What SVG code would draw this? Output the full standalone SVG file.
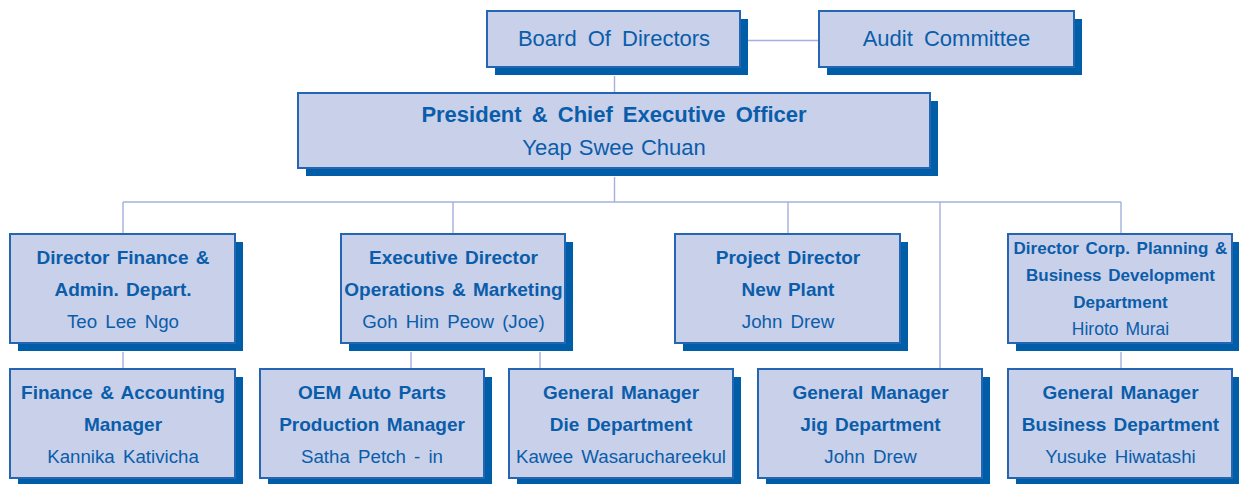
<svg xmlns="http://www.w3.org/2000/svg" width="1239" height="484" viewBox="0 0 1239 484">
<style>
.sh{fill:#005EA8;}
.bx{fill:#C9D0E9;stroke:#2566B2;stroke-width:2;}
.cn{fill:none;stroke:#A3B1DC;stroke-width:1.4;}
text{font-family:"Liberation Sans",Arial,sans-serif;fill:#0A5DAA;text-anchor:middle;}
.t{font-size:22px;word-spacing:5px;}
.b{font-size:19px;font-weight:bold;word-spacing:2px;}
.r{font-size:18.7px;word-spacing:3px;}
.pb{font-size:22px;font-weight:bold;word-spacing:4px;}
.pr{font-size:22px;word-spacing:1px;}
.cb{font-size:17px;font-weight:bold;word-spacing:2px;}
.cr{font-size:17.5px;word-spacing:2px;}
</style>
<rect width="1239" height="484" fill="#FFFFFF"/>
<g id="connectors">
<path class="cn" d="M748 40.5H819"/>
<path class="cn" d="M614.5 76V93"/>
<path class="cn" d="M614.5 177V202"/>
<path class="cn" d="M123 202H1121"/>
<path class="cn" d="M123 202V233M453 202V233M788 202V233M1121 202V233M940 202V368"/>
<path class="cn" d="M123 352V368M411 352V368M540 352V368M1121 352V368"/>
</g>
<g id="board">
<rect class="sh" x="495" y="19" width="253" height="56"/>
<rect class="bx" x="487" y="11" width="253" height="56"/>
<text class="t" x="614" y="46">Board Of Directors</text>
</g>
<g id="audit">
<rect class="sh" x="827" y="19" width="255" height="56"/>
<rect class="bx" x="819" y="11" width="255" height="56"/>
<text class="t" x="946.5" y="46">Audit Committee</text>
</g>
<g id="ceo">
<rect class="sh" x="306" y="101" width="632" height="75"/>
<rect class="bx" x="298" y="93" width="632" height="75"/>
<text class="pb" x="614" y="122">President &amp; Chief Executive Officer</text>
<text class="pr" x="614" y="155">Yeap Swee Chuan</text>
</g>
<g id="finance-director">
<rect class="sh" x="18" y="242" width="225" height="109"/>
<rect class="bx" x="10" y="234" width="225" height="109"/>
<text class="b" x="123" y="264">Director Finance &amp;</text>
<text class="b" x="123" y="296">Admin. Depart.</text>
<text class="r" x="123" y="328">Teo Lee Ngo</text>
</g>
<g id="exec-director">
<rect class="sh" x="349" y="242" width="224" height="109"/>
<rect class="bx" x="341" y="234" width="224" height="109"/>
<text class="b" x="453.5" y="264">Executive Director</text>
<text class="b" x="453.5" y="296">Operations &amp; Marketing</text>
<text class="r" x="453.5" y="328">Goh Him Peow (Joe)</text>
</g>
<g id="project-director">
<rect class="sh" x="683" y="242" width="225" height="109"/>
<rect class="bx" x="675" y="234" width="225" height="109"/>
<text class="b" x="788" y="264">Project Director</text>
<text class="b" x="788" y="296">New Plant</text>
<text class="r" x="788" y="328">John Drew</text>
</g>
<g id="corp-director">
<rect class="sh" x="1016" y="242" width="224" height="109"/>
<rect class="bx" x="1008" y="234" width="224" height="109"/>
<text class="cb" x="1120.5" y="254">Director Corp. Planning &amp;</text>
<text class="cb" x="1120.5" y="281">Business Development</text>
<text class="cb" x="1120.5" y="308">Department</text>
<text class="cr" x="1120.5" y="335">Hiroto Murai</text>
</g>
<g id="finance-manager">
<rect class="sh" x="18" y="377" width="225" height="109"/>
<rect class="bx" x="10" y="369" width="225" height="109"/>
<text class="b" x="123" y="399">Finance &amp; Accounting</text>
<text class="b" x="123" y="431">Manager</text>
<text class="r" x="123" y="463">Kannika Kativicha</text>
</g>
<g id="oem-manager">
<rect class="sh" x="268" y="377" width="224" height="109"/>
<rect class="bx" x="260" y="369" width="224" height="109"/>
<text class="b" x="372" y="399">OEM Auto Parts</text>
<text class="b" x="372" y="431">Production Manager</text>
<text class="r" x="372" y="463">Satha Petch - in</text>
</g>
<g id="die-manager">
<rect class="sh" x="517" y="377" width="224" height="109"/>
<rect class="bx" x="509" y="369" width="224" height="109"/>
<text class="b" x="621" y="399">General Manager</text>
<text class="b" x="621" y="431">Die Department</text>
<text class="r" x="621" y="463">Kawee Wasaruchareekul</text>
</g>
<g id="jig-manager">
<rect class="sh" x="766" y="377" width="224" height="109"/>
<rect class="bx" x="758" y="369" width="224" height="109"/>
<text class="b" x="870.5" y="399">General Manager</text>
<text class="b" x="870.5" y="431">Jig Department</text>
<text class="r" x="870.5" y="463">John Drew</text>
</g>
<g id="business-manager">
<rect class="sh" x="1016" y="377" width="224" height="109"/>
<rect class="bx" x="1008" y="369" width="224" height="109"/>
<text class="b" x="1120.5" y="399">General Manager</text>
<text class="b" x="1120.5" y="431">Business Department</text>
<text class="r" x="1120.5" y="463">Yusuke Hiwatashi</text>
</g>
</svg>
